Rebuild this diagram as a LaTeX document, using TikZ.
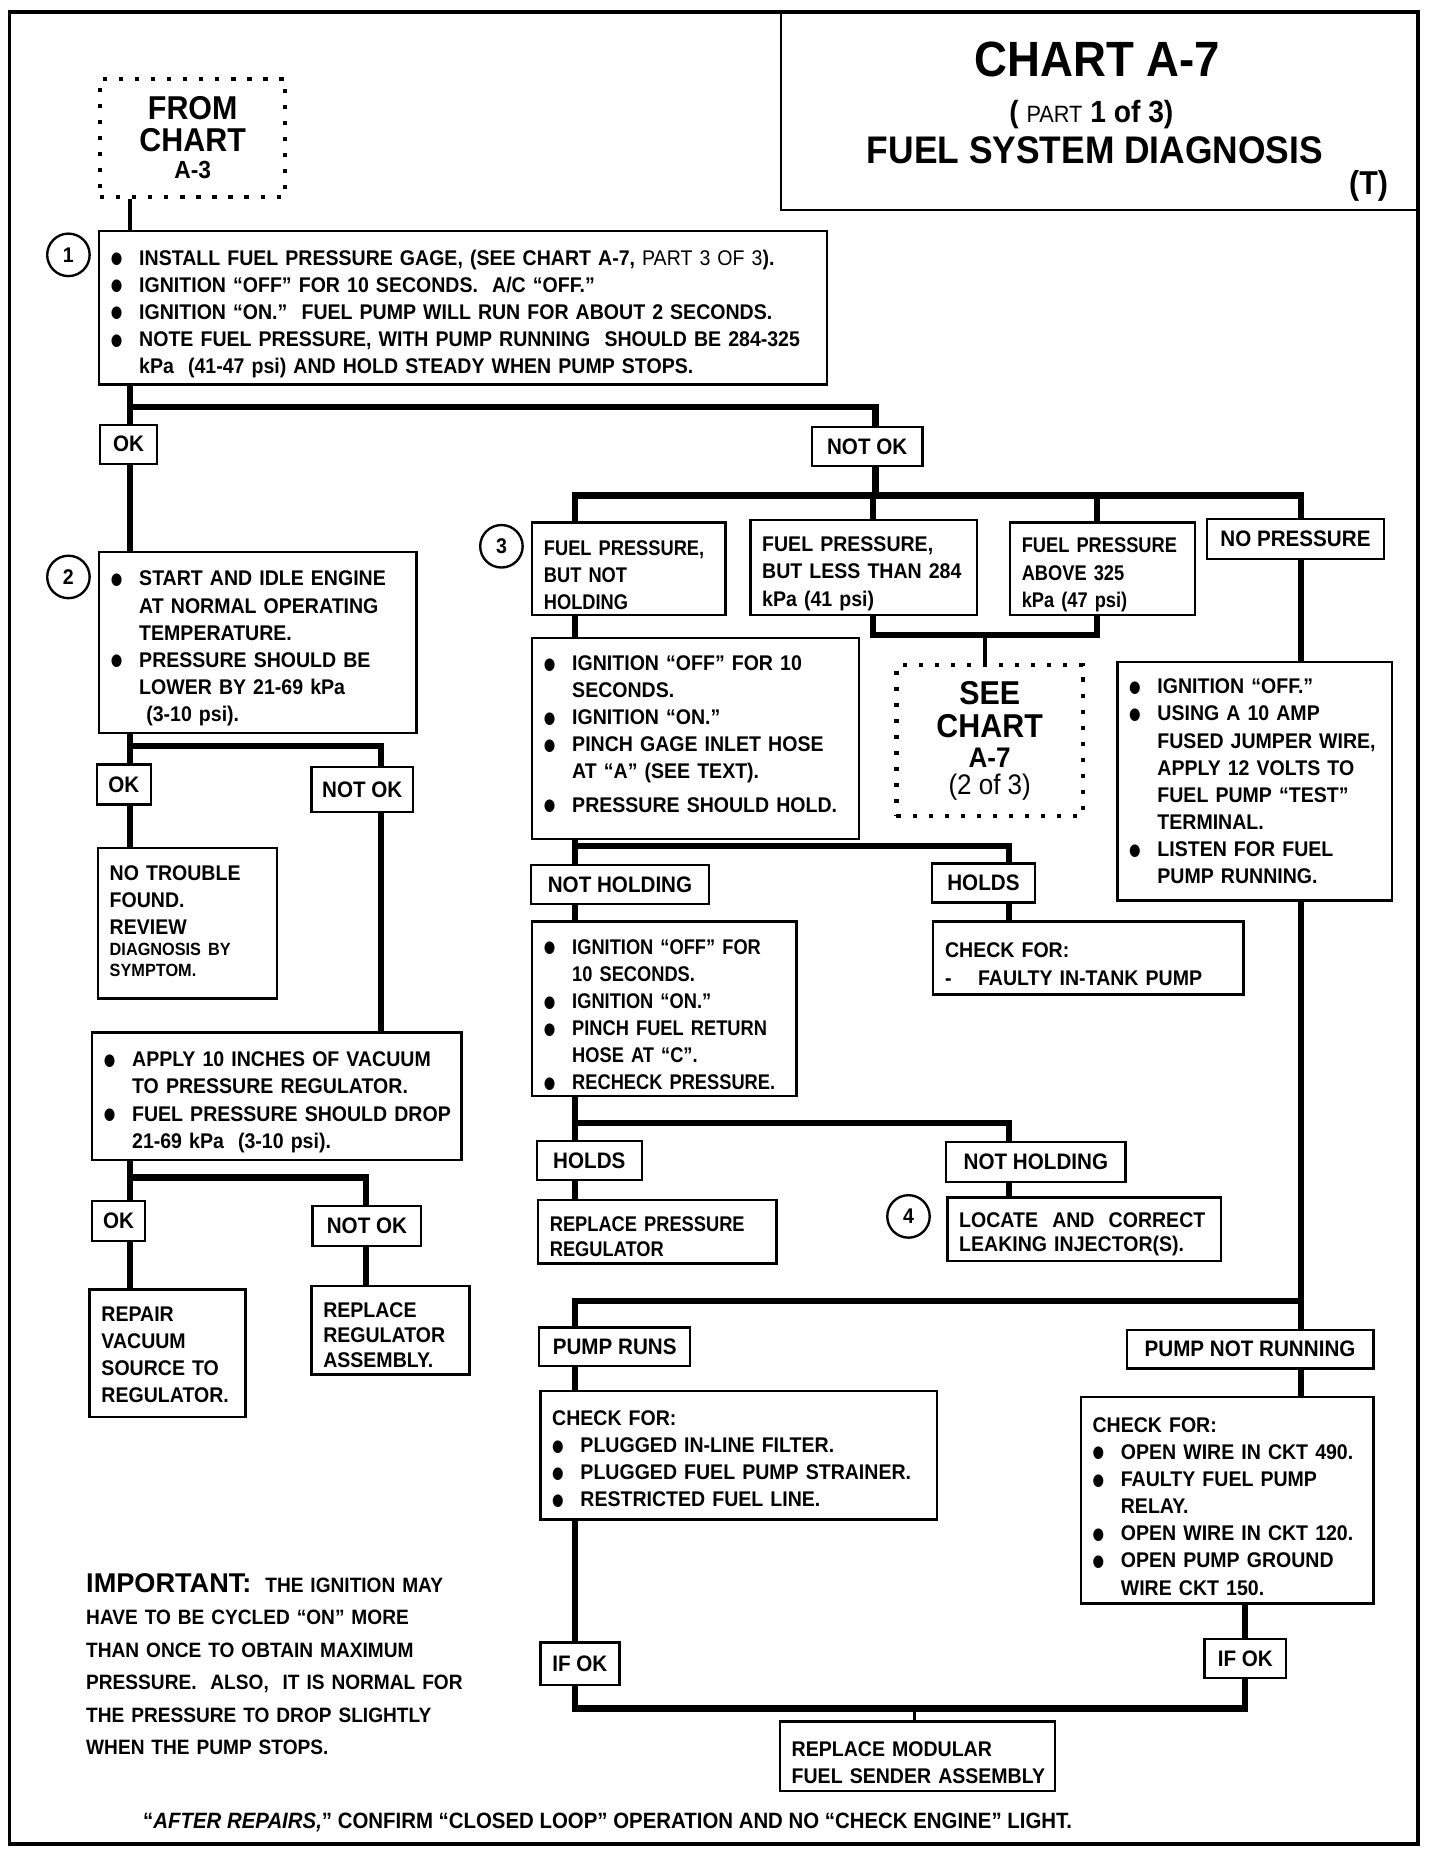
\documentclass[tikz,border=0pt]{standalone}
\usepackage{fontspec}
\setmainfont{Liberation Sans}[FakeStretch=0.92]
\newfontfamily\widefont{Liberation Sans}
\newfontfamily\narrowfamily{Liberation Sans}[FakeStretch=0.86]
\newfontfamily\dotfamily{DejaVu Sans}[FakeStretch=0.8]
\newcommand{\chartfont}{\bfseries\fontsize{9}{11.5}\selectfont\parindent=0pt\relax\parskip=0pt\relax}
\newcommand{\narrowfont}{\narrowfamily\bfseries\fontsize{9}{11.5}\selectfont\parindent=0pt\relax\parskip=0pt\relax}
\newcommand{\tightfont}{\bfseries\fontsize{9}{10.5}\selectfont\parindent=0pt\relax\parskip=0pt\relax}
\newcommand{\labelfont}{\bfseries\fontsize{9.5}{11.5}\selectfont}
\newcommand{\notefont}{\bfseries\fontsize{8.8}{13.75}\selectfont\parindent=0pt\relax\parskip=0pt\relax}
\newcommand{\dotmark}{\raisebox{0.6pt}{\dotfamily\fontsize{7}{7}\selectfont ●}}
\newcommand{\bl}[1]{\par\noindent\makebox[12pt][l]{\dotmark}\mbox{#1}}
\newcommand{\cont}[1]{\newline\hspace*{12pt}\mbox{#1}}
\newcommand{\row}[1]{\par\noindent\mbox{#1}}
\tikzset{
    every node/.style={font=\chartfont},
    box/.style={draw, line width=1pt, anchor=north west, inner xsep=5pt, inner ysep=2pt, align=left},
    narrow/.style={font=\narrowfont},
    lbl/.style={draw, line width=1pt, inner sep=0pt, font=\labelfont},
    dotbox/.style={draw, line width=1.8pt, dash pattern=on 1.8pt off 5pt, anchor=north west,
        align=center, inner sep=5pt},
    num/.style={draw, circle, line width=1pt, minimum size=18pt, inner sep=0pt},
    conn/.style={line width=2.6pt},
    thinconn/.style={line width=1.6pt}
}

\begin{document}
\begin{tikzpicture}[x=0.5pt, y=-0.5pt]
  \fill[white] (0,0) rectangle (1220,1568);
  \useasboundingbox (0,0) rectangle (1220,1568);

  % frame and title
  \draw[line width=1.6pt] (8,10) rectangle (1202,1563);
  \draw[line width=1.2pt] (662,10) rectangle (1202,178);
  \node (t1) at (930,50) {\fontsize{21}{21}\selectfont CHART A-7};
  \node (t2) at (925,97) {\fontsize{13}{13}\selectfont ( {\mdseries\fontsize{10}{10}\selectfont PART} 1 of 3)};
  \node (t3) at (928,127) {\fontsize{16.3}{17}\selectfont FUEL SYSTEM DIAGNOSIS};
  \node (t4) at (1160,158) {\fontsize{14}{14}\selectfont (T)};

  % columns and bus rows
  \coordinate (cA) at (110,0);  \coordinate (cB) at (323,0);
  \coordinate (cC) at (310,0);  \coordinate (cD) at (487,0);
  \coordinate (cE) at (740,0);  \coordinate (cF) at (930,0);
  \coordinate (cG) at (835,0);  \coordinate (cH) at (855,0);
  \coordinate (cI) at (1103,0); \coordinate (cJ) at (1055,0);
  \coordinate (cK) at (775,0);  \coordinate (cN) at (742,0);
  \coordinate (r1) at (0,345);  \coordinate (r2) at (0,632);
  \coordinate (r3) at (0,998);  \coordinate (r4) at (0,420);
  \coordinate (r5) at (0,538);  \coordinate (r6) at (0,717);
  \coordinate (r7) at (0,952);  \coordinate (r8) at (0,1103);
  \coordinate (r9) at (0,1448);

  % left branch
  \node (from) [dotbox, text width=68.5pt, minimum height=50pt] at (83,65)
    {\fontsize{14}{13.5}\selectfont FROM\\CHART\\[0pt]\fontsize{10.5}{12}\selectfont A-3};

  \node (n1) [num] at (58,216) {1};
  \node (b1) [box, text width=298.5pt, minimum height=65pt] at (83,195) {%
    \bl{INSTALL FUEL PRESSURE GAGE, (SEE CHART A-7, {\mdseries PART 3 OF 3}).}
    \bl{IGNITION “OFF” FOR 10 SECONDS.\ \ A/C “OFF.”}
    \bl{IGNITION “ON.”\ \ FUEL PUMP WILL RUN FOR ABOUT 2 SECONDS.}
    \bl{NOTE FUEL PRESSURE, WITH PUMP RUNNING\ \ SHOULD BE 284-325}
      \cont{kPa\ \ (41-47 psi) AND HOLD STEADY WHEN PUMP STOPS.}\par};

  \node (ok1) [lbl, minimum width=24pt, minimum height=16.5pt] at (109,376.5) {OK};
  \node (nok1) [lbl, minimum width=47pt, minimum height=16.5pt] at (735,378.5) {NOT OK};

  \node (n2) [num] at (58,489) {2};
  \node (b2) [box, text width=124.5pt, minimum height=76.5pt] at (83,467) {%
    \bl{START AND IDLE ENGINE}\cont{AT NORMAL OPERATING}\cont{TEMPERATURE.}
    \bl{PRESSURE SHOULD BE}\cont{LOWER BY 21-69 kPa}\cont{\ (3-10 psi).}\par};

  \node (ok2) [lbl, minimum width=23pt, minimum height=17pt] at (105,665) {OK};
  \node (nok2) [lbl, minimum width=43pt, minimum height=19pt] at (307,669) {NOT OK};

  \node (ntf) [box, text width=66pt, minimum height=63.5pt] at (82,718) {%
    \row{NO TROUBLE}\row{FOUND.}\row{REVIEW}\par
    {\fontsize{7.5}{9}\selectfont\row{DIAGNOSIS BY}\row{SYMPTOM.}\par}\kern7pt};

  \node (vac) [box, text width=146.5pt, minimum height=54pt] at (77,874) {%
    \bl{APPLY 10 INCHES OF VACUUM}\cont{TO PRESSURE REGULATOR.}
    \bl{FUEL PRESSURE SHOULD DROP}\cont{21-69 kPa\ \ (3-10 psi).}\par};

  \node (ok3) [lbl, minimum width=22.5pt, minimum height=17pt] at (100.5,1035) {OK};
  \node (nok3) [lbl, minimum width=46pt, minimum height=17pt] at (311,1039) {NOT OK};

  \node (rep) [box, text width=56pt, minimum height=53pt] at (75,1092)
    {\row{REPAIR}\row{VACUUM}\row{SOURCE TO}\row{REGULATOR.}\par\kern4pt};
  \node (rra) [box, text width=57pt, minimum height=37.5pt, font=\tightfont] at (263,1089)
    {\row{REPLACE}\row{REGULATOR}\row{ASSEMBLY.}\par};

  % right branch
  \node (n3) [num] at (425,463) {3};
  \node (f1) [box, narrow, inner ysep=0pt, text width=72pt, minimum height=39pt] at (450,442)
    {\kern3pt\row{FUEL PRESSURE,}\row{BUT NOT}\row{HOLDING}\par};
  \node (f2) [box, inner ysep=0pt, text width=86pt, minimum height=40pt] at (635,440)
    {\kern3pt\row{FUEL PRESSURE,}\row{BUT LESS THAN 284}\row{kPa (41 psi)}\par};
  \node (f3) [box, narrow, inner ysep=0pt, text width=68.5pt, minimum height=39pt] at (855,442)
    {\kern3pt\row{FUEL PRESSURE}\row{ABOVE 325}\row{kPa (47 psi)}\par};
  \node (nph) [lbl, minimum width=75pt, minimum height=17pt] at (1098,457) {NO PRESSURE};

  \node (see) [dotbox, text width=69pt, minimum height=64pt] at (758,562)
    {\fontsize{14}{14}\selectfont SEE\\CHART\\[1pt]\fontsize{12}{11.5}\selectfont A-7\\\mdseries (2 of 3)};

  \node (b4) [box, text width=128.5pt, minimum height=85pt] at (450,540) {%
    \bl{IGNITION “OFF” FOR 10}\cont{SECONDS.}
    \bl{IGNITION “ON.”}
    \bl{PINCH GAGE INLET HOSE}\cont{AT “A” (SEE TEXT).}\par\kern2.5pt
    \bl{PRESSURE SHOULD HOLD.}\par\kern9pt};

  \node (nh1) [lbl, minimum width=75.5pt, minimum height=16.5pt] at (525.5,749.5) {NOT HOLDING};
  \node (hd1) [lbl, minimum width=43.5pt, minimum height=16.5pt] at (833.5,748.5) {HOLDS};

  \node (chk1) [box, text width=121.5pt, minimum height=31pt] at (790,780)
    {\row{CHECK FOR:}\row{\makebox[14pt][l]{-}FAULTY IN-TANK PUMP}\par};

  \node (b5) [box, narrow, text width=102pt, minimum height=74pt] at (450,780) {%
    \bl{IGNITION “OFF” FOR}\cont{10 SECONDS.}
    \bl{IGNITION “ON.”}
    \bl{PINCH FUEL RETURN}\cont{HOSE AT “C”.}
    \bl{RECHECK PRESSURE.}\par};

  \node (hd2) [lbl, minimum width=44.5pt, minimum height=16.5pt] at (499.5,983.5) {HOLDS};
  \node (nh2) [lbl, minimum width=76pt, minimum height=17pt] at (878,985) {NOT HOLDING};

  \node (rpr) [box, narrow, text width=91pt, minimum height=27pt] at (455,1016)
    {\fontsize{9}{10.5}\selectfont\row{REPLACE PRESSURE}\row{REGULATOR}\par};
  \node (n4) [num] at (770,1031) {4};
  \node (loc) [box, text width=106pt, minimum height=27pt, font=\tightfont] at (802,1014)
    {\row{LOCATE\ \ AND\ \ CORRECT}\row{LEAKING INJECTOR(S).}\par};

  \node (b6) [box, text width=106.5pt, minimum height=101pt] at (946,560) {%
    \bl{IGNITION “OFF.”}
    \bl{USING A 10 AMP}\cont{FUSED JUMPER WIRE,}\cont{APPLY 12 VOLTS TO}%
      \cont{FUEL PUMP “TEST”}\cont{TERMINAL.}
    \bl{LISTEN FOR FUEL}\cont{PUMP RUNNING.}\par\kern5pt};

  \node (pr) [lbl, minimum width=64pt, minimum height=16.5pt] at (521,1141.5) {PUMP RUNS};
  \node (pnr) [lbl, minimum width=104.5pt, minimum height=16.5pt] at (1059.5,1143.5) {PUMP NOT RUNNING};

  \node (chk2) [box, text width=158pt, minimum height=54.5pt] at (457,1178) {%
    \row{CHECK FOR:}
    \bl{PLUGGED IN-LINE FILTER.}
    \bl{PLUGGED FUEL PUMP STRAINER.}
    \bl{RESTRICTED FUEL LINE.}\par\kern2pt};

  \node (chk3) [box, text width=114pt, minimum height=87.5pt] at (915,1183) {%
    \row{CHECK FOR:}
    \bl{OPEN WIRE IN CKT 490.}
    \bl{FAULTY FUEL PUMP}\cont{RELAY.}
    \bl{OPEN WIRE IN CKT 120.}
    \bl{OPEN PUMP GROUND}\cont{WIRE CKT 150.}\par};

  \node (ifok1) [lbl, minimum width=33.5pt, minimum height=18pt] at (491.5,1410) {IF OK};
  \node (ifok2) [lbl, minimum width=34.5pt, minimum height=16.5pt] at (1055.5,1405.5) {IF OK};

  \node (rms) [box, text width=106.5pt, minimum height=29.5pt] at (660,1458)
    {\row{REPLACE MODULAR}\row{FUEL SENDER ASSEMBLY}\par};

  % notes
  \node (imp) [anchor=north west, text width=180pt, font=\notefont] at (66,1315)
    {\row{{\widefont\fontsize{11.5}{13.75}\selectfont IMPORTANT:}\ \ THE IGNITION MAY}
     \row{HAVE TO BE CYCLED “ON” MORE}\row{THAN ONCE TO OBTAIN MAXIMUM}
     \row{PRESSURE.\ \ ALSO,\ \ IT IS NORMAL FOR}\row{THE PRESSURE TO DROP SLIGHTLY}
     \row{WHEN THE PUMP STOPS.}\par};
  \node (foot) at (515,1545)
    {\fontsize{9.4}{11}\selectfont “\textit{AFTER REPAIRS,}” CONFIRM “CLOSED LOOP” OPERATION AND NO “CHECK ENGINE” LIGHT.};

  % connectors, left
  \draw[thinconn] (from.south -| cA) -- (b1.north -| cA);
  \draw[conn] (b1.south -| cA) -- (ok1.north -| cA);
  \draw[conn] (cA |- r1) -| (nok1.north -| cN);
  \draw[conn] (ok1.south -| cA) -- (b2.north -| cA);
  \draw[conn] (b2.south -| cA) -- (ok2.north -| cA);
  \draw[conn] (cA |- r2) -| (nok2.north -| cB);
  \draw[conn] (ok2.south -| cA) -- (ntf.north -| cA);
  \draw[conn] (nok2.south -| cB) -- (vac.north -| cB);
  \draw[conn] (vac.south -| cA) -- (ok3.north -| cA);
  \draw[conn] (cA |- r3) -| (nok3.north -| cC);
  \draw[conn] (ok3.south -| cA) -- (rep.north -| cA);
  \draw[conn] (nok3.south -| cC) -- (rra.north -| cC);

  % connectors, right
  \draw[conn] (nok1.south -| cN) -- (cN |- r4);
  \draw[conn] (f1.north -| cD) -- (cD |- r4) -- (cI |- r4) -- (nph.north -| cI);
  \draw[conn] (f2.north -| cE) -- (cE |- r4);
  \draw[conn] (f3.north -| cF) -- (cF |- r4);
  \draw[conn] (f2.south -| cE) |- (cF |- r5) -- (f3.south -| cF);
  \draw[thinconn] (cG |- r5) -- (see.north -| cG);
  \draw[conn] (f1.south -| cD) -- (b4.north -| cD);
  \draw[conn] (b4.south -| cD) -- (nh1.north -| cD);
  \draw[conn] (cD |- r6) -| (hd1.north -| cH);
  \draw[conn] (hd1.south -| cH) -- (chk1.north -| cH);
  \draw[conn] (nh1.south -| cD) -- (b5.north -| cD);
  \draw[conn] (b5.south -| cD) -- (hd2.north -| cD);
  \draw[conn] (cD |- r7) -| (nh2.north -| cH);
  \draw[conn] (hd2.south -| cD) -- (rpr.north -| cD);
  \draw[conn] (nh2.south -| cH) -- (loc.north -| cH);
  \draw[conn] (nph.south -| cI) -- (b6.north -| cI);
  \draw[conn] (b6.south -| cI) -- (pnr.north -| cI);
  \draw[conn] (cI |- r8) -| (pr.north -| cD);
  \draw[conn] (pr.south -| cD) -- (chk2.north -| cD);
  \draw[conn] (pnr.south -| cI) -- (chk3.north -| cI);
  \draw[conn] (chk2.south -| cD) -- (ifok1.north -| cD);
  \draw[conn] (chk3.south -| cJ) -- (ifok2.north -| cJ);
  \draw[conn] (ifok1.south -| cD) |- (cJ |- r9) -- (ifok2.south -| cJ);
  \draw[thinconn] (cK |- r9) -- (rms.north -| cK);

\end{tikzpicture}
\end{document}
